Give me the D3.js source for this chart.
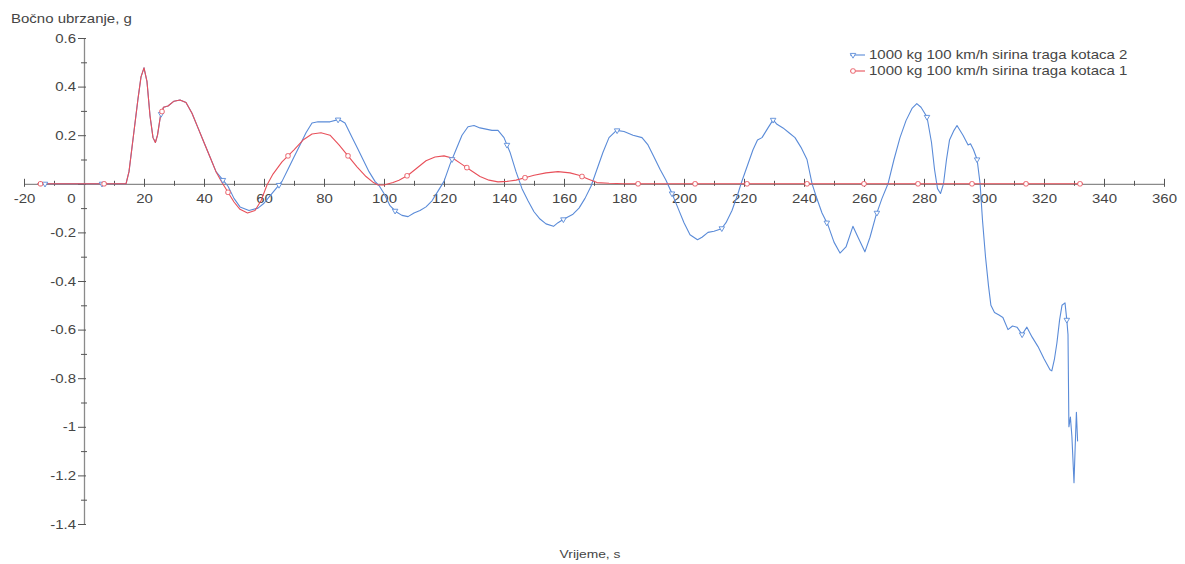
<!DOCTYPE html>
<html>
<head>
<meta charset="utf-8">
<script src="https://cdn.jsdelivr.net/npm/d3@7"></script>
<style>
  html, body { margin: 0; padding: 0; background: #fff; }
  svg { display: block; font-family: "Liberation Sans", Arial, sans-serif; }
</style>
</head>
<body>
<svg id="chart" width="1185" height="564"></svg>
<script>
// ---------- DATA ----------
const seriesNames = ["1000 kg 100 km/h sirina traga kotaca 2", "1000 kg 100 km/h sirina traga kotaca 1"];
const xTicks = [-20, 0, 20, 40, 60, 80, 100, 120, 140, 160, 180, 200, 220, 240, 260, 280, 300, 320, 340, 360];
const yTicks = [0.6, 0.4, 0.2, 0, -0.2, -0.4, -0.6, -0.8, -1, -1.2, -1.4];
const xTitle = "Vrijeme, s";
const yTitle = "Bočno ubrzanje, g";

// common start (both runs identical until ~44 s)
const commonStart = [
  [-15.5,0],[14,0],[15,0.05],[16.5,0.2],[18,0.35],[19,0.44],[20,0.477],[21,0.42],[22,0.28],[23,0.19],
  [23.8,0.17],[24.5,0.2],[25.5,0.28],[26.5,0.315],[28,0.32],[30,0.34],[32,0.345],[34,0.335],[36,0.29],
  [38,0.23],[40,0.17],[42,0.11],[44,0.05]
];

// series 1: track width 2 (blue)
const blueTail = [
  [46,0.02],[48,-0.01],[50,-0.06],[52,-0.095],[55,-0.11],[58,-0.1],[60,-0.08],[62,-0.05],[64,-0.02],
  [66,0.01],[68,0.06],[70,0.11],[72,0.16],[74,0.21],[76,0.25],[78,0.255],[82,0.255],[85,0.265],[87,0.25],
  [89,0.2],[91,0.15],[93,0.1],[95,0.05],[97,0.01],[98.5,-0.01],[100,-0.04],[102,-0.09],[104,-0.115],
  [106,-0.13],[108,-0.135],[110,-0.12],[112,-0.11],[114,-0.095],[116,-0.07],[118,-0.03],[120,0.01],
  [122,0.08],[124,0.14],[126,0.2],[128,0.235],[130,0.24],[132,0.23],[134,0.225],[136,0.22],[138,0.22],
  [140,0.19],[142,0.13],[144,0.05],[146,-0.02],[148,-0.07],[150,-0.115],[152,-0.145],[154,-0.165],
  [156.5,-0.175],[158,-0.16],[160,-0.145],[163,-0.125],[165,-0.1],[167,-0.06],[169,-0.01],[171,0.06],
  [173,0.13],[175,0.19],[177.5,0.22],[180,0.215],[183,0.2],[186,0.19],[188,0.16],[190,0.11],[192,0.06],
  [194,0.015],[196,-0.04],[198,-0.1],[200,-0.16],[202,-0.21],[204.5,-0.23],[206,-0.22],[208,-0.2],
  [210,-0.195],[212.5,-0.185],[214,-0.16],[216,-0.11],[218,-0.04],[219,0],[221,0.07],[223,0.14],
  [224.5,0.18],[226,0.19],[228,0.23],[229.7,0.263],[231,0.245],[233,0.23],[235,0.21],[237,0.19],
  [239,0.15],[241,0.1],[242.7,0],[244,-0.05],[246,-0.12],[248,-0.17],[250,-0.24],[252,-0.285],
  [254,-0.26],[256.3,-0.175],[258,-0.22],[260.3,-0.28],[262,-0.22],[264,-0.13],[266,-0.06],[268,0],
  [270,0.1],[272,0.19],[274,0.26],[276,0.31],[277.6,0.33],[279,0.315],[281,0.275],[282.5,0.17],
  [283.5,0.06],[284.5,-0.02],[285.5,-0.04],[286.5,0],[287.5,0.1],[288.5,0.18],[290,0.22],[291,0.24],
  [293,0.2],[294.7,0.16],[295.5,0.165],[296.5,0.14],[297.7,0.1],[298.7,0],[299.5,-0.15],[300.5,-0.3],
  [301.5,-0.42],[302.3,-0.5],[303.5,-0.53],[305,-0.54],[306.3,-0.55],[308,-0.6],[309.5,-0.585],
  [311,-0.59],[312.7,-0.62],[314.3,-0.59],[316,-0.63],[318,-0.67],[320,-0.72],[322,-0.765],[322.6,-0.77],
  [323.5,-0.72],[324.3,-0.655],[325.2,-0.56],[326,-0.5],[327,-0.49],[327.6,-0.56],[328,-0.62],
  [328.3,-1.0],[328.8,-0.96],[329.3,-1.04],[330,-1.23],[330.4,-1.08],[330.8,-0.94],[331.2,-1.06]
];

// series 2: track width 1 (red)
const redTail = [
  [46,0.005],[48,-0.035],[50,-0.075],[52,-0.105],[54.5,-0.12],[57,-0.11],[59,-0.07],[61,-0.005],
  [63,0.04],[66,0.09],[68,0.115],[70,0.14],[73,0.18],[76,0.205],[79,0.21],[82,0.2],[85,0.16],[88,0.115],
  [91,0.07],[94,0.03],[96.5,0.005],[98,-0.005],[100,-0.005],[103,0.005],[105,0.015],[108,0.035],
  [111,0.065],[114,0.095],[117,0.11],[120,0.115],[123,0.105],[126,0.08],[129,0.055],[132,0.03],
  [135,0.015],[138,0.008],[141,0.01],[144,0.015],[147,0.025],[150,0.035],[154,0.045],[158,0.05],
  [162,0.045],[165,0.035],[168,0.02],[171,0.005],[175,0.002],[180,0],[333,0]
];

const blueMarkerTimes = [-13, 6, 25.7, 46.3, 65, 84.7, 103.7, 122.7, 141, 159.8, 177.7, 196, 212.6, 229.7, 247.6, 264.3, 281, 297.7, 312.7, 327.6];
const redMarkerTimes = [-14.5, 6.7, 26, 48, 68, 88, 107.7, 127.6, 147, 166, 184.7, 203.7, 221, 241, 260, 278, 296, 314, 332];

const colors = ["#5a8bd8", "#e8505a"];

// ---------- CHART ----------
const blue = commonStart.concat(blueTail);
const red = commonStart.concat(redTail);

const svg = d3.select("#chart");
const x = d3.scaleLinear().domain([-20, 360]).range([24, 1164]);
const y = d3.scaleLinear().domain([-1.4, 0.6]).range([524, 38]);

const fmt = d => String(+(+d).toFixed(1));
const axisColor = "#8a8a8a";
const textColor = "#454545";
const FS = 12.5, SX = 1.2;

const xMinor = d3.range(-10, 360, 20);
const yMinor = d3.range(-13, 6, 2).map(v => v / 10);

// X axis
const gx = svg.append("g").attr("transform", `translate(0,${y(0)})`);
gx.call(d3.axisBottom(x).tickValues(xTicks).tickSize(0).tickSizeOuter(0).tickFormat(fmt));
gx.select(".domain").attr("stroke", axisColor).attr("stroke-width", 1.3);
gx.selectAll(".tick text").attr("fill", textColor).attr("font-size", FS).attr("dy", "1.3em")
  .attr("x", d => d === 0 ? -11 : 0)
  .attr("transform", `scale(${SX},1)`);
gx.selectAll(".tick").append("line").attr("y1", -5).attr("y2", 3).attr("stroke", "#555");
const gxm = svg.append("g").attr("transform", `translate(0,${y(0)})`);
gxm.call(d3.axisBottom(x).tickValues(xMinor).tickSize(0).tickFormat(""));
gxm.select(".domain").remove();
gxm.selectAll(".tick").append("line").attr("y1", -3).attr("y2", 2).attr("stroke", "#555");

// Y axis
const gy = svg.append("g").attr("transform", `translate(${x(0)},0)`);
gy.call(d3.axisLeft(y).tickValues(yTicks).tickSize(0).tickSizeOuter(0).tickFormat(fmt));
gy.select(".domain").attr("stroke", axisColor).attr("stroke-width", 1.3);
gy.selectAll(".tick text").attr("fill", textColor).attr("font-size", FS)
  .attr("x", -8 / SX).attr("dx", 0)
  .attr("transform", `scale(${SX},1)`)
  .style("display", d => d === 0 ? "none" : null);
gy.selectAll(".tick").append("line").attr("x1", -6).attr("x2", 2).attr("stroke", "#555");
const gym = svg.append("g").attr("transform", `translate(${x(0)},0)`);
gym.call(d3.axisLeft(y).tickValues(yMinor).tickSize(0).tickFormat(""));
gym.select(".domain").remove();
gym.selectAll(".tick").append("line").attr("x1", -3).attr("x2", 3).attr("stroke", "#555");

// Titles
svg.append("g").attr("transform", "translate(11,23)")
  .append("text").attr("transform", `scale(${SX},1)`).attr("font-size", FS).attr("fill", textColor).text(yTitle);
svg.append("g").attr("transform", "translate(590,558)")
  .append("text").attr("transform", `scale(${SX},1)`).attr("text-anchor", "middle").attr("font-size", 11.5).attr("fill", textColor).text(xTitle);

// Lines
const line = d3.line().x(d => x(d[0])).y(d => y(d[1]));
const interp = (s, t) => {
  const i = d3.bisector(d => d[0]).left(s, t);
  if (i <= 0) return s[0][1];
  if (i >= s.length) return s[s.length - 1][1];
  const a = s[i - 1], b = s[i];
  return a[1] + (b[1] - a[1]) * (t - a[0]) / (b[0] - a[0]);
};

const tri = d3.symbol().type(d3.symbolTriangle).size(13);
function drawMarker(g, kind, color, cx, cy) {
  if (kind === 0) {
    g.append("path").attr("d", tri()).attr("transform", `translate(${cx},${cy}) rotate(180)`)
      .attr("fill", "#fff").attr("stroke", color).attr("stroke-width", 0.9);
  } else {
    g.append("rect").attr("x", cx - 2.2).attr("y", cy - 2.2).attr("width", 4.4).attr("height", 4.4)
      .attr("rx", 1.5).attr("fill", "#fff").attr("stroke", color).attr("stroke-width", 0.9);
  }
}

const all = [
  { data: blue, times: blueMarkerTimes, color: colors[0], kind: 0 },
  { data: red, times: redMarkerTimes, color: colors[1], kind: 1 }
];
all.forEach(s => {
  svg.append("path").datum(s.data).attr("d", line).attr("fill", "none")
    .attr("stroke", s.color).attr("stroke-width", 1.1).attr("stroke-linejoin", "round");
});
all.forEach(s => {
  const g = svg.append("g");
  s.times.forEach(t => drawMarker(g, s.kind, s.color, x(t), y(interp(s.data, t))));
});

// Legend
seriesNames.forEach((name, i) => {
  const ly = 55 + i * 16;
  const g = svg.append("g");
  g.append("line").attr("x1", 850).attr("x2", 865).attr("y1", ly).attr("y2", ly).attr("stroke", colors[i]).attr("stroke-width", 1.1);
  drawMarker(g, i, colors[i], 853, ly);
  g.append("g").attr("transform", `translate(869,${ly + 4})`)
    .append("text").attr("transform", `scale(${SX},1)`).attr("font-size", FS).attr("fill", textColor).text(name);
});
</script>
</body>
</html>
